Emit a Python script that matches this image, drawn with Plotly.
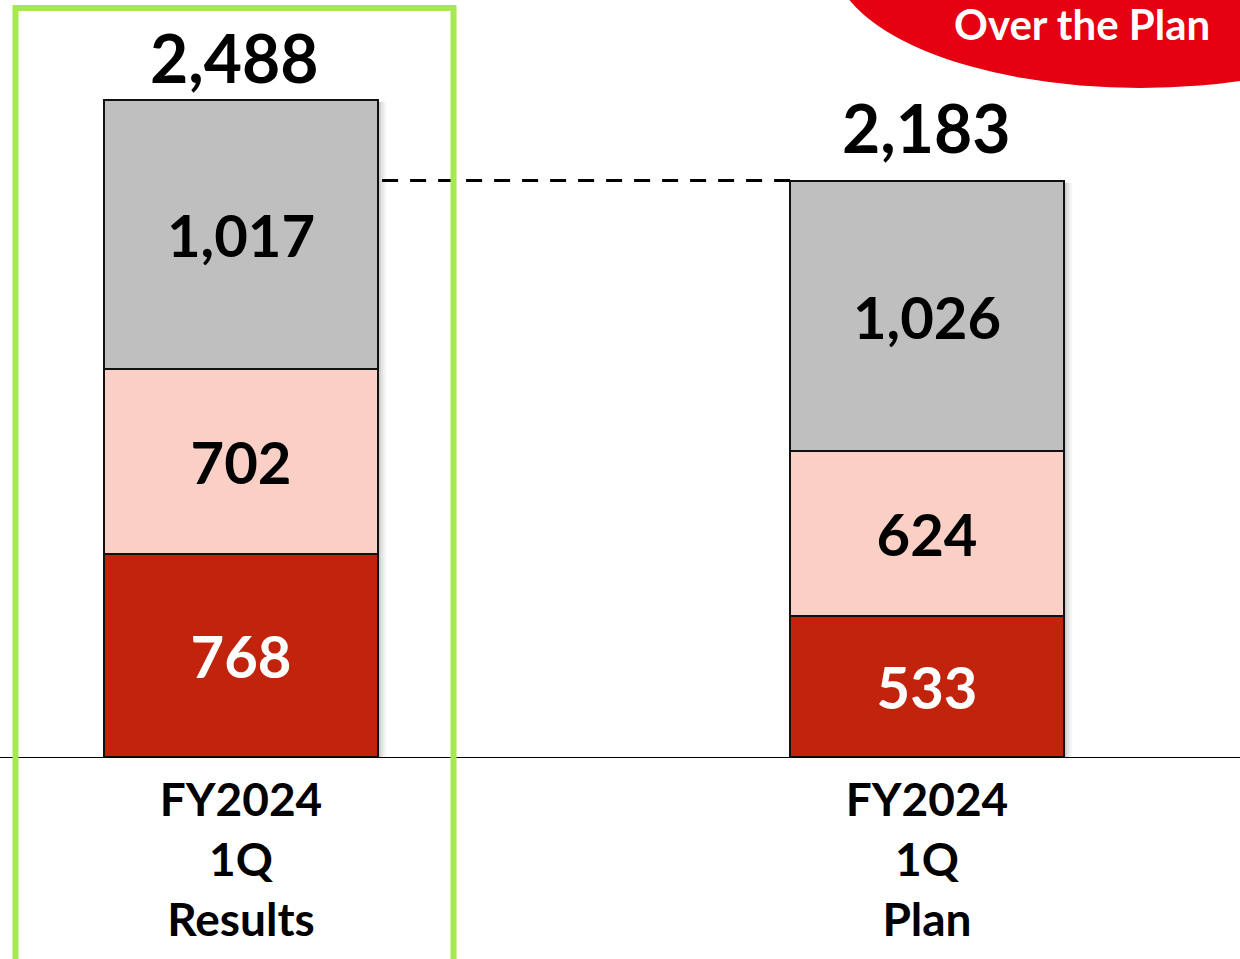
import plotly.graph_objects as go

# ---- data ----
categories = ["FY2024<br>1Q<br>Results", "FY2024<br>1Q<br>Plan"]
seg_bottom = [768, 533]     # dark red
seg_middle = [702, 624]     # pink
seg_top = [1017, 1026]      # gray
totals = [2488, 2183]
badge_text = "Over the Plan"

# ---- styles ----
W, H = 1240, 959
FONT = "Lato"
base_px = 757                       # baseline from top
scale = 657 / 2488                  # px per unit
y_top = base_px / scale
bar_w = 0.3994
x_range = [-0.3513, 1.4563]
colors = ["#c1230d", "#f9cfc6", "#bfbfbf"]
text_colors = ["white", "black", "black"]

fig = go.Figure()
for vals, col, tcol in zip([seg_bottom, seg_middle, seg_top], colors, text_colors):
    fig.add_trace(go.Bar(
        x=categories, y=vals, width=bar_w,
        marker=dict(color=col, line=dict(color="#111111", width=2)),
        texttemplate="%{y:,}", textposition="inside", insidetextanchor="middle",
        textangle=0, constraintext="none",
        textfont=dict(family=FONT, size=58, color=tcol, weight="bold"),
        hoverinfo="skip", showlegend=False,
    ))

shapes = []
# bar shadows
for i, t in enumerate(totals):
    for k, op in enumerate([0.10, 0.07, 0.04]):
        shapes.append(dict(type="rect", xref="x", yref="y", layer="below",
                           x0=i + bar_w / 2, x1=i + bar_w / 2 + (k + 1) * 0.004,
                           y0=0, y1=t - 8, line=dict(width=0),
                           fillcolor=f"rgba(0,0,0,{op})"))
# dashed comparison line at plan total level
shapes.append(dict(type="line", xref="x", yref="y",
                   x0=0 + bar_w / 2 + 0.006, x1=1 - bar_w / 2, y0=totals[1], y1=totals[1],
                   line=dict(color="black", width=3, dash="16px,12px")))
# green highlight box
shapes.append(dict(type="rect", xref="paper", yref="paper",
                   x0=15.5 / W, x1=453.5 / W, y0=-0.01, y1=1 - 8 / H,
                   line=dict(color="#a6e852", width=6)))
# red badge ellipse
cx, cy, rx, ry = 1140, -42, 307, 130
shapes.append(dict(type="circle", xref="paper", yref="paper",
                   x0=(cx - rx) / W, x1=(cx + rx) / W,
                   y0=1 - (cy + ry) / H, y1=1 - (cy - ry) / H,
                   fillcolor="#e50012", line=dict(width=0)))

annotations = []
yshifts = [43, 53]
for i, t in enumerate(totals):
    annotations.append(dict(x=categories[i], y=t, xref="x", yref="y",
                            text=f"{t:,}", showarrow=False, yshift=yshifts[i],
                            xshift=-6 if i == 0 else 0,
                            font=dict(family=FONT, size=66, color="black", weight="bold")))
annotations.append(dict(x=952 / W, y=1 - 24 / H, xref="paper", yref="paper",
                        xanchor="left", yanchor="middle", text=badge_text, showarrow=False,
                        font=dict(family=FONT, size=42, color="white", weight="bold")))

fig.update_layout(
    width=W, height=H, autosize=False,
    margin=dict(l=0, r=0, t=0, b=0),
    paper_bgcolor="white", plot_bgcolor="white",
    barmode="stack", bargap=0,
    shapes=shapes, annotations=annotations,
    xaxis=dict(type="category", range=x_range, showgrid=False, zeroline=False,
               showline=True, linecolor="black", linewidth=1, ticks="",
               tickfont=dict(family=FONT, size=46, color="black", weight="bold"),
               ticklabelstandoff=3),
    yaxis=dict(domain=[(H - base_px) / H, 1], range=[0, y_top], visible=False),
)

fig.write_html("out.html", config={"displayModeBar": False},
               post_script="document.body.style.margin='0';")
